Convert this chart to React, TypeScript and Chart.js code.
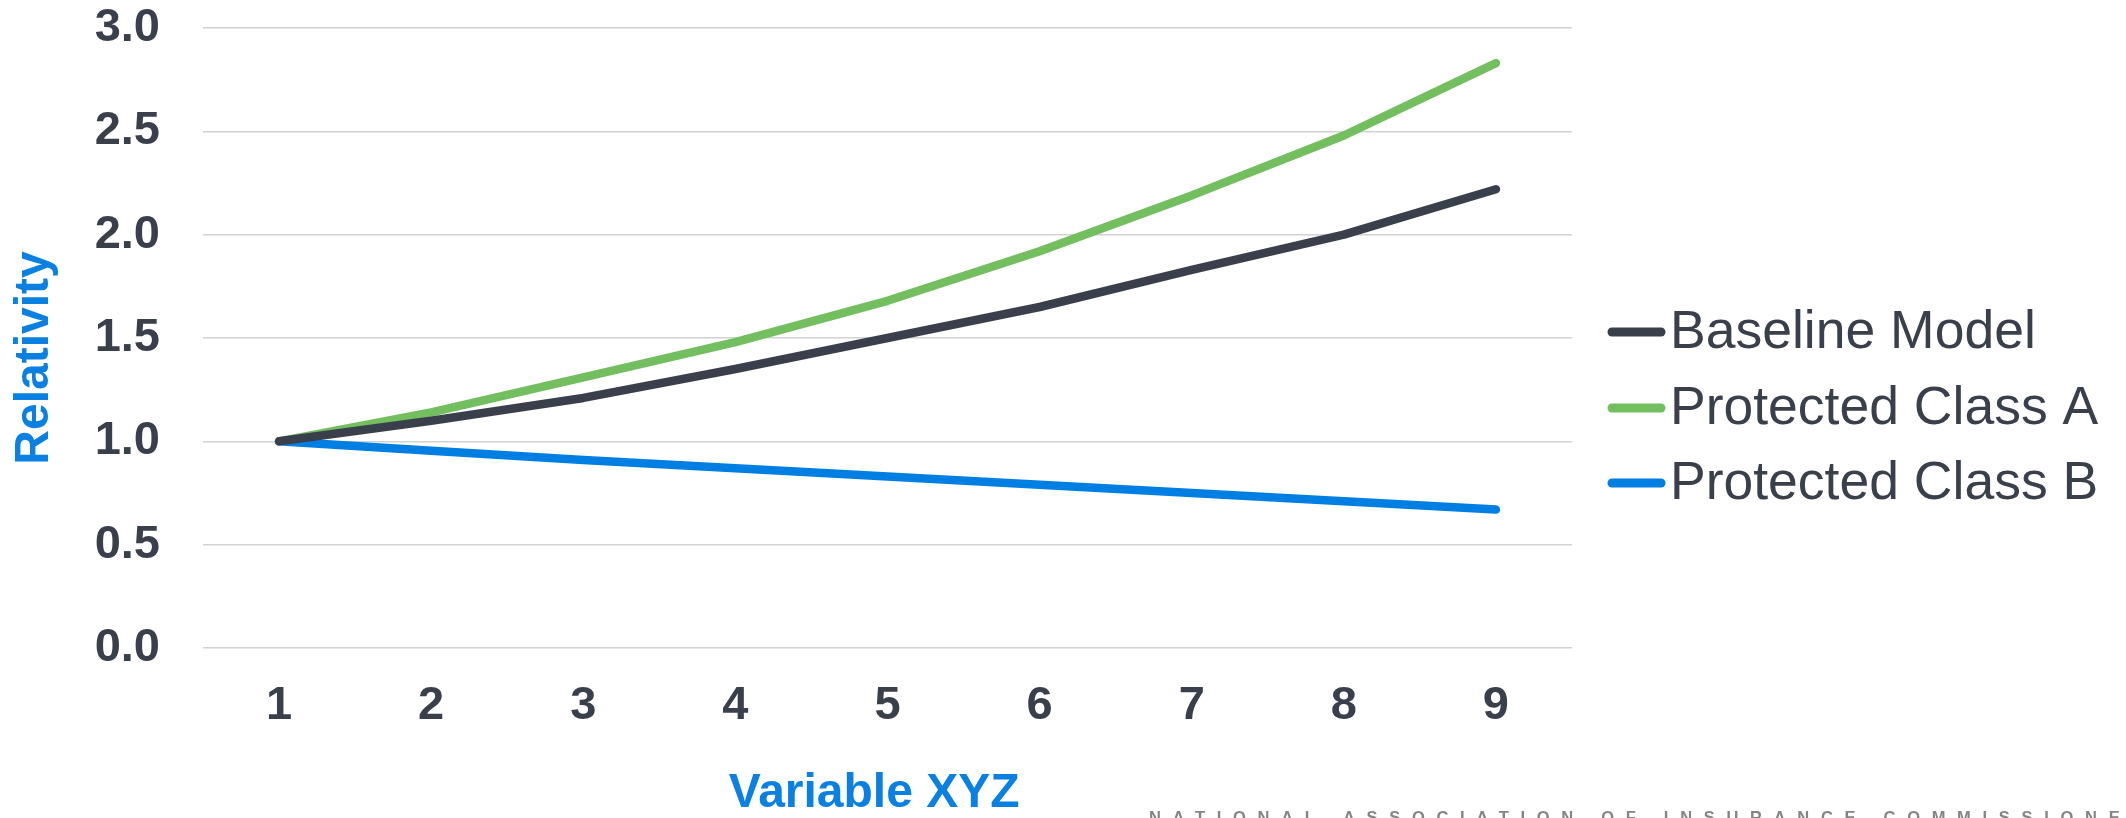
import React, { useEffect, useRef } from "react";
import { Chart, registerables } from "chart.js";

Chart.register(...registerables);

const categories = ["1", "2", "3", "4", "5", "6", "7", "8", "9"];
const baselineModel = [1.0, 1.1, 1.21, 1.35, 1.5, 1.65, 1.83, 2.0, 2.22];
const protectedClassA = [1.0, 1.14, 1.31, 1.48, 1.68, 1.92, 2.19, 2.48, 2.83];
const protectedClassB = [1.0, 0.955, 0.91, 0.87, 0.83, 0.79, 0.75, 0.71, 0.67];
const seriesNames = ["Baseline Model", "Protected Class A", "Protected Class B"];
const seriesColors = ["#39404b", "#73bf60", "#007fe2"];
const yTickValues = [0, 0.5, 1.0, 1.5, 2.0, 2.5, 3.0];
const xTitle = "Variable XYZ";
const yTitle = "Relativity";
const footerText = "NATIONAL ASSOCIATION OF INSURANCE COMMISSIONERS";

const W = 2126;
const H = 818;
const FONT = "'Liberation Sans', Arial, Helvetica, sans-serif";
const DARK = "#39404b";
const BLUE = "#0a80e3";

const customLegend = {
  id: "customLegend",
  afterDraw(chart: any) {
    const ctx = chart.ctx;
    const area = chart.chartArea;
    ctx.save();
    const x0 = area.right + 40;
    const lineLen = 49;
    const rows = [304, 380, 455];
    chart.data.datasets.forEach((ds: any, i: number) => {
      const y = area.top + rows[i];
      ctx.beginPath();
      ctx.lineCap = "round";
      ctx.lineWidth = 9;
      ctx.strokeStyle = ds.borderColor;
      ctx.moveTo(x0, y);
      ctx.lineTo(x0 + lineLen, y);
      ctx.stroke();
      ctx.fillStyle = DARK;
      ctx.font = `53.5px ${FONT}`;
      ctx.textBaseline = "middle";
      ctx.textAlign = "left";
      ctx.fillText(ds.label, x0 + lineLen + 9, y + 1);
    });
    // footer
    ctx.fillStyle = "#858585";
    ctx.font = `bold 16.5px ${FONT}`;
    ctx.textBaseline = "alphabetic";
    try {
      (ctx as any).letterSpacing = "11.7px";
    } catch (e) {}
    ctx.fillText(footerText, 1149, 823);
    ctx.restore();
  },
};

export default function App() {
  const ref = useRef<HTMLCanvasElement | null>(null);
  useEffect(() => {
    if (!ref.current) return;
    const chart = new Chart(ref.current, {
      type: "line",
      data: {
        labels: categories,
        datasets: [baselineModel, protectedClassA, protectedClassB].map((d, i) => ({
          label: seriesNames[i],
          data: d,
          borderColor: seriesColors[i],
          backgroundColor: seriesColors[i],
          borderWidth: 8.5,
          borderCapStyle: "round",
          borderJoinStyle: "round",
          pointRadius: 0,
          pointHoverRadius: 0,
          tension: 0,
          fill: false,
        })),
      },
      options: {
        responsive: false,
        animation: false,
        events: [],
        layout: { padding: { left: 0, right: W - 1572, top: 28, bottom: 0 } },
        plugins: {
          legend: { display: false },
          tooltip: { enabled: false },
        },
        scales: {
          x: {
            type: "category",
            offset: true,
            grid: { display: false, drawTicks: false },
            border: { display: false },
            ticks: {
              color: DARK,
              font: { family: FONT, size: 47, weight: "bold" },
              padding: 30,
              maxRotation: 0,
            },
            title: {
              display: true,
              text: xTitle + "  ",
              color: BLUE,
              font: { family: FONT, size: 48, weight: "bold", lineHeight: 1.02 },
              padding: { top: 0, bottom: 0 },
            },
            afterFit: (scale: any) => {
              scale.height = H - 648;
              scale.paddingLeft = 0;
              scale.paddingRight = 0;
            },
          },
          y: {
            min: 0,
            max: 3,
            afterBuildTicks: (scale: any) => {
              scale.ticks = yTickValues.map((v) => ({ value: v }));
            },
            grid: { color: "#d2d2d2", lineWidth: 1.6, drawTicks: false },
            border: { display: false },
            ticks: {
              color: DARK,
              font: { family: FONT, size: 47, weight: "bold" },
              padding: 43,
              callback: (v: any) => Number(v).toFixed(1),
            },
            title: {
              display: true,
              text: yTitle + "   ",
              color: BLUE,
              font: { family: FONT, size: 48, weight: "bold", lineHeight: 1.2 },
              padding: { top: 6, bottom: 0 },
            },
            afterFit: (scale: any) => {
              scale.width = 203;
              scale.paddingTop = 0;
              scale.paddingBottom = 0;
            },
          },
        },
      },
      plugins: [customLegend],
    } as any);
    return () => chart.destroy();
  }, []);
  return (
    <div style={{ position: "fixed", left: 0, top: 0, width: W, height: H, background: "#fff" }}>
      <canvas ref={ref} width={W} height={H} style={{ display: "block", width: W, height: H }} />
    </div>
  );
}
